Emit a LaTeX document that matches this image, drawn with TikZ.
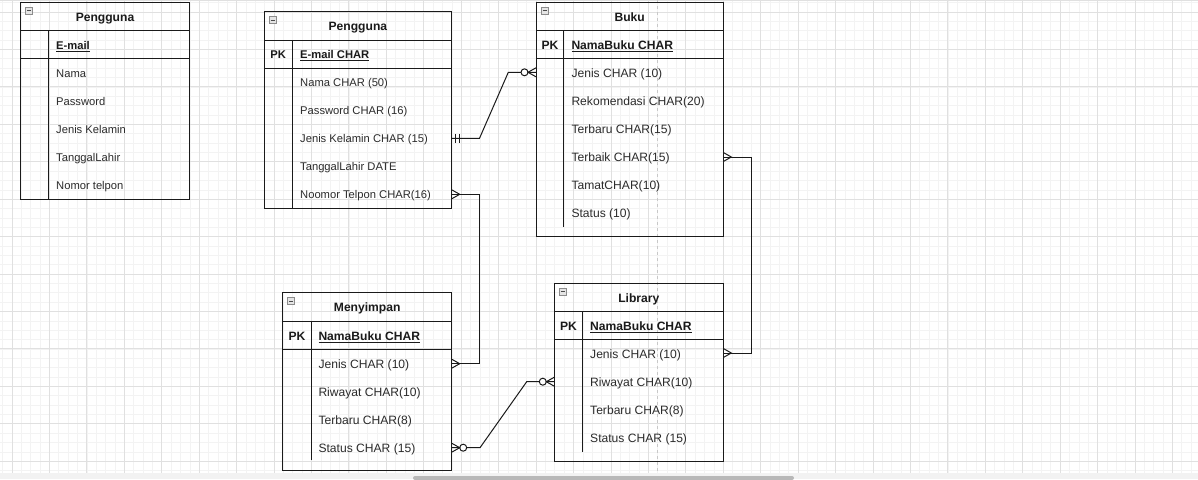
\documentclass[tikz,border=0pt]{standalone}
\usepackage{fontspec}
\setmainfont{Liberation Sans}
\newcommand\fldfontA{\fontsize{11.2}{13}\selectfont}
\newcommand\fldfontB{\fontsize{12.1}{14}\selectfont}
\newcommand\ttlfont{\fontsize{12.1}{14}\selectfont\bfseries}
\definecolor{gridmin}{HTML}{F3F3F3}
\definecolor{gridmaj}{HTML}{E0E0E0}
\definecolor{ink}{HTML}{1A1A1A}
\definecolor{txt}{HTML}{2B2B2B}
\definecolor{pageln}{HTML}{C8C8C8}
\tikzset{
 tblline/.style={draw=ink, line width=1pt},
 fld/.style={anchor=base west, inner sep=0pt, font=\fldfontA, text=txt},
 pkfld/.style={anchor=base west, inner sep=0pt, font=\fldfontA\bfseries, text=ink},
 pklab/.style={anchor=base, inner sep=0pt, font=\fldfontA\bfseries, text=ink},
 fldB/.style={anchor=base west, inner sep=0pt, font=\fldfontB, text=txt},
 pkfldB/.style={anchor=base west, inner sep=0pt, font=\fldfontB\bfseries, text=ink},
 pklabB/.style={anchor=base, inner sep=0pt, font=\fldfontB\bfseries, text=ink},
 ttl/.style={anchor=base, inner sep=0pt, font=\ttlfont, text=ink},
 conn/.style={draw=ink, line width=1pt},
 minusicon/.style={draw=black!45, fill=black!10, minimum size=7pt, inner sep=0pt, line width=0.6pt,
   path picture={\draw[black!70, line width=0.8pt] ([xshift=-2pt]path picture bounding box.center) -- ([xshift=2pt]path picture bounding box.center);}},
}
% #1 name #2 L #3 R #4 T #5 H1 #6 H2 #7 B #8 D #9 E
\newcommand{\ERframe}[9]{%
 \draw[tblline] (#2,#4) rectangle (#3,#7);
 \draw[tblline] (#2,#5) -- (#3,#5);
 \draw[tblline] (#2,#6) -- (#3,#6);
 \draw[tblline] (#8,#5) -- (#8,#9);
 \node[minusicon] (#1-icon) at ({#2+8.5},{#4+8.5}) {};
}
% crow's foot: #1 edge point name, #2 direction (+1 right, -1 left)
\newcommand{\crow}[2]{%
 \draw[conn] ([yshift=4.5pt]#1) -- ([xshift=#2*8pt]#1) -- ([yshift=-4.5pt]#1);
}
\newcommand{\zerocirc}[2]{%
 \draw[conn, fill=white] ([xshift=#2*11.5pt]#1) circle[radius=3.5pt];
}
\newcommand{\onebars}[2]{%
 \draw[conn] ([xshift=#2*3.6pt,yshift=4.5pt]#1) -- ([xshift=#2*3.6pt,yshift=-4.5pt]#1);
 \draw[conn] ([xshift=#2*7.4pt,yshift=4.5pt]#1) -- ([xshift=#2*7.4pt,yshift=-4.5pt]#1);
}
\begin{document}
\begin{tikzpicture}[x=1pt,y=-1pt]
\useasboundingbox (0,0) rectangle (1198,479);
\fill[white] (0,0) rectangle (1198,479);
% grid
\foreach \k in {-1,...,126} {\pgfmathsetmacro\xx{12+9.358*\k}\draw[gridmin, line width=0.6pt] (\xx,0) -- (\xx,473);}
\foreach \k in {-1,...,49} {\pgfmathsetmacro\yy{12+9.358*\k}\draw[gridmin, line width=0.6pt] (0,\yy) -- (1198,\yy);}
\foreach \k in {0,...,31} {\pgfmathsetmacro\xx{12+37.432*\k}\draw[gridmaj, line width=0.8pt] (\xx,0) -- (\xx,473);}
\foreach \k in {0,...,12} {\pgfmathsetmacro\yy{12+37.432*\k}\draw[gridmaj, line width=0.8pt] (0,\yy) -- (1198,\yy);}
\draw[gridmaj, line width=0.8pt] (0,0.6) -- (1198,0.6);
\draw[pageln, dash pattern=on 3pt off 3pt, line width=0.8pt] (657.7,0) -- (657.7,473);

% Table 1: Pengguna (simple)
\ERframe{t1}{20.7}{189.3}{2.3}{30.3}{58.7}{199}{48.7}{199}
\node[ttl] (t1-title) at (105,21.5) {Pengguna};
\node[pkfld] (t1-pk) at (56,49.3) {\underline{E-mail}};
\foreach \t [count=\i] in {Nama, Password, Jenis Kelamin, TanggalLahir, Nomor telpon}
  \node[fld] (t1-r\i) at (56,{49+28*\i}) {\t};

% Table 2: Pengguna
\ERframe{t2}{264}{451.7}{11.7}{40}{68.3}{208.3}{292.3}{208.3}
\node[ttl] (t2-title) at (357.9,30.5) {Pengguna};
\node[pklab] (t2-pklab) at (278.2,58.3) {PK};
\node[pkfld] (t2-pk) at (300,58.3) {\underline{E-mail CHAR}};
\foreach \t [count=\i] in {{Nama CHAR (50)}, {Password CHAR (16)}, {Jenis Kelamin CHAR (15)}, {TanggalLahir DATE}, {Noomor Telpon CHAR(16)}}
  \node[fld] (t2-r\i) at (300,{58.6+28*\i}) {\t};

% Table 3: Buku
\ERframe{t3}{536}{723.3}{2.3}{30.7}{58.7}{236}{563.7}{226.7}
\node[ttl] (t3-title) at (629.7,21.5) {Buku};
\node[pklabB] (t3-pklab) at (549.9,49.5) {PK};
\node[pkfldB] (t3-pk) at (571.3,49.5) {\underline{NamaBuku CHAR}};
\foreach \t [count=\i] in {{Jenis CHAR (10)}, {Rekomendasi CHAR(20)}, {Terbaru CHAR(15)}, {Terbaik CHAR(15)}, {TamatCHAR(10)}, {Status (10)}}
  \node[fldB] (t3-r\i) at (571.3,{49.5+28*\i}) {\t};

% Table 4: Menyimpan
\ERframe{t4}{282.7}{451.7}{292.7}{321}{349}{470.3}{311.3}{460}
\node[ttl] (t4-title) at (367.2,311.8) {Menyimpan};
\node[pklabB] (t4-pklab) at (297,340.2) {PK};
\node[pkfldB] (t4-pk) at (318.3,340.2) {\underline{NamaBuku CHAR}};
\foreach \t [count=\i] in {{Jenis CHAR (10)}, {Riwayat CHAR(10)}, {Terbaru CHAR(8)}, {Status CHAR (15)}}
  \node[fldB] (t4-r\i) at (318.3,{340.2+28*\i}) {\t};

% Table 5: Library
\ERframe{t5}{554.3}{723.3}{283.3}{311.7}{339.7}{461}{582.7}{451.7}
\node[ttl] (t5-title) at (638.8,302.5) {Library};
\node[pklabB] (t5-pklab) at (568.5,330.5) {PK};
\node[pkfldB] (t5-pk) at (590,330.5) {\underline{NamaBuku CHAR}};
\foreach \t [count=\i] in {{Jenis CHAR (10)}, {Riwayat CHAR(10)}, {Terbaru CHAR(8)}, {Status CHAR (15)}}
  \node[fldB] (t5-r\i) at (590,{330.5+28*\i}) {\t};

% connector end points
\coordinate (t2-jk) at (451.7,138.3);
\coordinate (t2-nt) at (451.7,194.3);
\coordinate (t3-jenis) at (536,72.3);
\coordinate (t3-terbaik) at (723.3,157);
\coordinate (t4-jenis) at (451.7,363.7);
\coordinate (t4-status) at (451.7,447.7);
\coordinate (t5-jenis) at (723.3,353);
\coordinate (t5-riwayat) at (554.3,381.7);

% connectors
\draw[conn] (t2-jk) -- ++(27.8,0) -- ([xshift=-27.7pt]t3-jenis) -- (t3-jenis);
\onebars{t2-jk}{1}
\zerocirc{t3-jenis}{-1}
\crow{t3-jenis}{-1}

\draw[conn] (t2-nt) -- ++(27.8,0) |- (t4-jenis);
\crow{t2-nt}{1}
\crow{t4-jenis}{1}

\draw[conn] (t4-status) -- ++(28.3,0) -- ([xshift=-27.6pt]t5-riwayat) -- (t5-riwayat);
\zerocirc{t4-status}{1}
\crow{t4-status}{1}
\zerocirc{t5-riwayat}{-1}
\crow{t5-riwayat}{-1}

\draw[conn] (t3-terbaik) -- ++(27.7,0) |- (t5-jenis);
\crow{t3-terbaik}{1}
\crow{t5-jenis}{1}

% bottom bar
\fill[black!5] (0,473) rectangle (1198,479);
\fill[black!28, rounded corners=2pt] (413,476) rectangle (794,480);
\end{tikzpicture}
\end{document}
